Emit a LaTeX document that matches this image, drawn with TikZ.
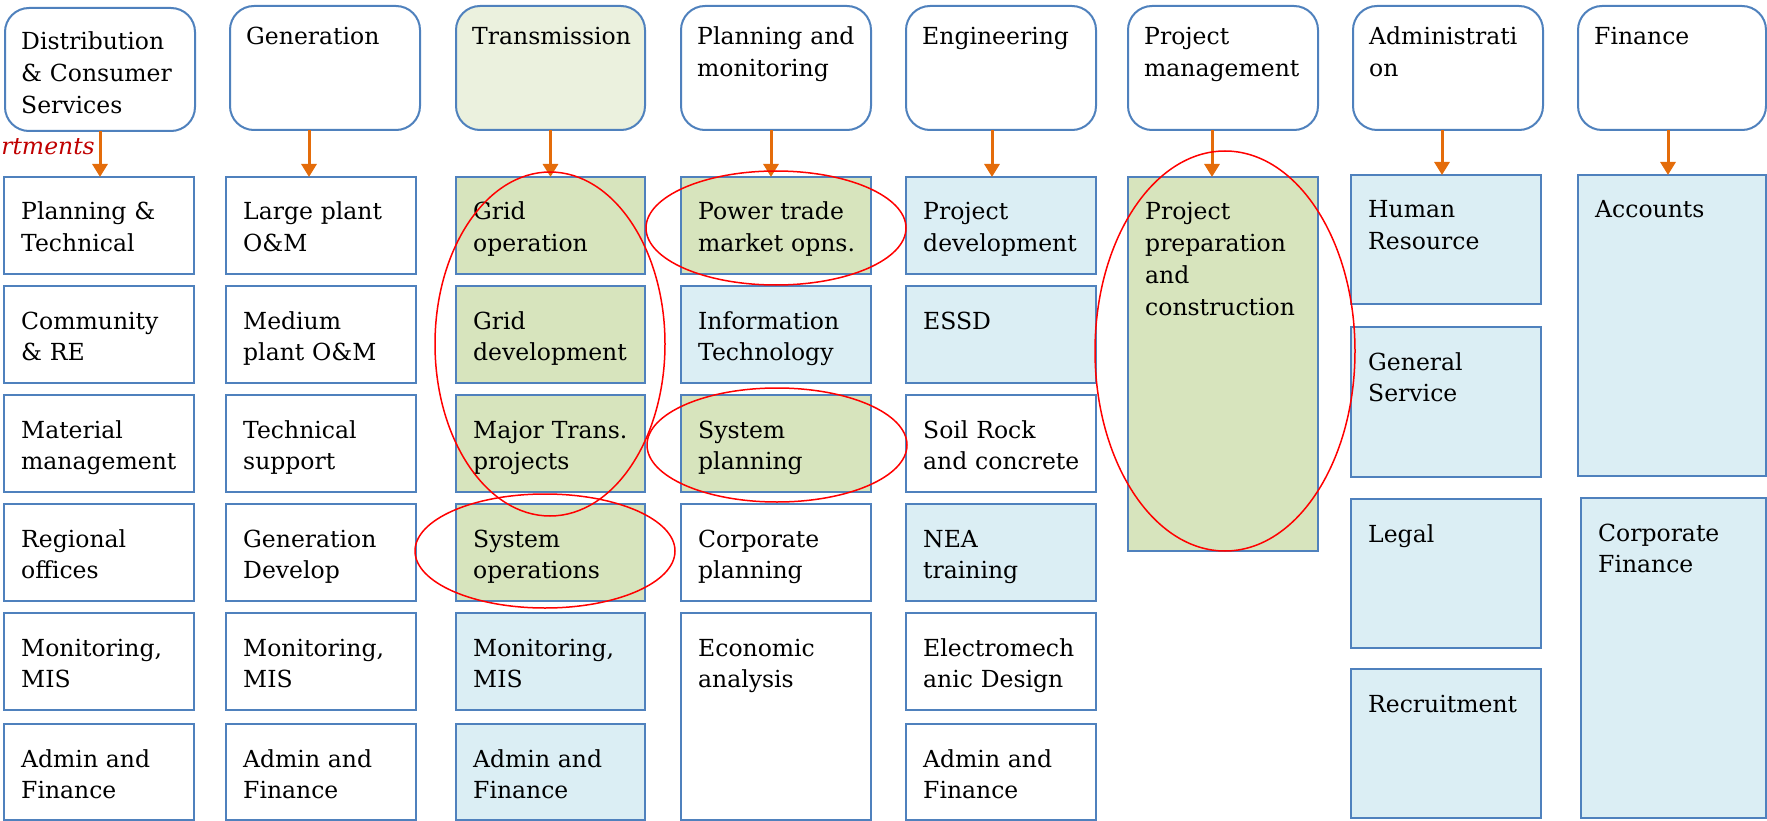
\documentclass[tikz,border=0pt]{standalone}
\usepackage{fontspec}
\setmainfont{DejaVu Serif}
\usetikzlibrary{arrows.meta}

\definecolor{boxline}{RGB}{79,129,189}
\definecolor{greenfill}{RGB}{215,228,189}
\definecolor{palegreen}{RGB}{235,241,222}
\definecolor{bluefill}{RGB}{219,238,244}
\definecolor{arrowor}{RGB}{228,108,10}
\definecolor{marker}{RGB}{255,0,0}
\definecolor{notered}{RGB}{192,0,0}

\tikzset{
  unitbox/.style={rectangle, draw=boxline, line width=2pt, anchor=north west,
                  inner sep=0pt, outer sep=0pt},
  headbox/.style={unitbox, rounded corners=24pt},
  unittext/.style={anchor=base west, inner sep=0pt, text width=185pt, align=left,
                   font=\fontsize{23.5pt}{31.8pt}\selectfont},
  feed/.style={draw=arrowor, line width=3pt, -{Triangle[width=15pt,length=13pt]}},
  ring/.style={draw=marker, line width=1.5pt},
}

% unit box: name, left, top, width, height, fill, text
\newcommand\orgbox[7]{%
  \node[unitbox, fill=#6, minimum width=#4pt, minimum height=#5pt] (#1) at (#2,#3) {};
  \node[unittext] (#1t) at ([shift={(17pt,-43pt)}]#1.north west) {#7};}

% department header: name, left, top, width, height, fill, baseline offset, text
\newcommand\orghead[8]{%
  \node[headbox, fill=#6, minimum width=#4pt, minimum height=#5pt] (#1) at (#2,#3) {};
  \node[unittext] (#1t) at ([shift={(16pt,-#7pt)}]#1.north west) {#8};}

\begin{document}
\begin{tikzpicture}[x=1pt, y=-1pt]
\useasboundingbox (0,0) rectangle (1767,821);

% department headers
\orghead{h1}{5}{8}{190}{123}{white}{42}{Distribution\\\& Consumer\\Services}
\orghead{h2}{230}{6}{190}{124}{white}{39}{Generation}
\orghead{h3}{456}{6}{189}{124}{palegreen}{39}{Transmission}
\orghead{h4}{681}{6}{190}{124}{white}{39}{Planning and\\monitoring}
\orghead{h5}{906}{6}{190}{124}{white}{39}{Engineering}
\orghead{h6}{1128}{6}{190}{124}{white}{39}{Project\\management}
\orghead{h7}{1353}{6}{190}{124}{white}{39}{Administrati\\on}
\orghead{h8}{1578}{6}{188}{124}{white}{39}{Finance}

\node[anchor=base east, inner sep=0pt, text=notered,
      font=\fontsize{23.5pt}{31.8pt}\selectfont\itshape] (dept) at (95,155) {rtments};

% Distribution & Consumer Services
\orgbox{b11}{4}{177}{190}{97}{white}{Planning \&\\Technical}
\orgbox{b12}{4}{286}{190}{97}{white}{Community\\\& RE}
\orgbox{b13}{4}{395}{190}{97}{white}{Material\\management}
\orgbox{b14}{4}{504}{190}{97}{white}{Regional\\offices}
\orgbox{b15}{4}{613}{190}{97}{white}{Monitoring,\\MIS}
\orgbox{b16}{4}{724}{190}{96}{white}{Admin and\\Finance}

% Generation
\orgbox{b21}{226}{177}{190}{97}{white}{Large plant\\O\&M}
\orgbox{b22}{226}{286}{190}{97}{white}{Medium\\plant O\&M}
\orgbox{b23}{226}{395}{190}{97}{white}{Technical\\support}
\orgbox{b24}{226}{504}{190}{97}{white}{Generation\\Develop}
\orgbox{b25}{226}{613}{190}{97}{white}{Monitoring,\\MIS}
\orgbox{b26}{226}{724}{190}{96}{white}{Admin and\\Finance}

% Transmission
\orgbox{b31}{456}{177}{189}{97}{greenfill}{Grid\\operation}
\orgbox{b32}{456}{286}{189}{97}{greenfill}{Grid\\development}
\orgbox{b33}{456}{395}{189}{97}{greenfill}{Major Trans.\\projects}
\orgbox{b34}{456}{504}{189}{97}{greenfill}{System\\operations}
\orgbox{b35}{456}{613}{189}{97}{bluefill}{Monitoring,\\MIS}
\orgbox{b36}{456}{724}{189}{96}{bluefill}{Admin and\\Finance}

% Planning and monitoring
\orgbox{b41}{681}{177}{190}{97}{greenfill}{Power trade\\market opns.}
\orgbox{b42}{681}{286}{190}{97}{bluefill}{Information\\Technology}
\orgbox{b43}{681}{395}{190}{97}{greenfill}{System\\planning}
\orgbox{b44}{681}{504}{190}{97}{white}{Corporate\\planning}
\orgbox{b45}{681}{613}{190}{207}{white}{Economic\\analysis}

% Engineering
\orgbox{b51}{906}{177}{190}{97}{bluefill}{Project\\development}
\orgbox{b52}{906}{286}{190}{97}{bluefill}{ESSD}
\orgbox{b53}{906}{395}{190}{97}{white}{Soil Rock\\and concrete}
\orgbox{b54}{906}{504}{190}{97}{bluefill}{NEA\\training}
\orgbox{b55}{906}{613}{190}{97}{white}{Electromech\\anic Design}
\orgbox{b56}{906}{724}{190}{96}{white}{Admin and\\Finance}

% Project management
\orgbox{b61}{1128}{177}{190}{374}{greenfill}{Project\\preparation\\and\\construction}

% Administration
\orgbox{b71}{1351}{175}{190}{129}{bluefill}{Human\\Resource}
\orgbox{b72}{1351}{327}{190}{150}{bluefill}{General\\Service}
\orgbox{b73}{1351}{499}{190}{149}{bluefill}{Legal}
\orgbox{b74}{1351}{669}{190}{149}{bluefill}{Recruitment}

% Finance
\orgbox{b81}{1578}{175}{188}{301}{bluefill}{Accounts}
\orgbox{b82}{1581}{498}{185}{320}{bluefill}{Corporate\\Finance}

% header-to-unit arrows
\coordinate (a1) at (h1.south);
\coordinate (a2) at ([xshift=-16pt]h2.south);
\coordinate (a3) at (h3.south);
\coordinate (a4) at ([xshift=-5pt]h4.south);
\coordinate (a5) at ([xshift=-9pt]h5.south);
\coordinate (a6) at ([xshift=-11pt]h6.south);
\coordinate (a7) at ([xshift=-6pt]h7.south);
\coordinate (a8) at ([xshift=-4pt]h8.south);
\draw[feed] (a1) -- (a1 |- b11.north);
\draw[feed] (a2) -- (a2 |- b21.north);
\draw[feed] (a3) -- (a3 |- b31.north);
\draw[feed] (a4) -- (a4 |- b41.north);
\draw[feed] (a5) -- (a5 |- b51.north);
\draw[feed] (a6) -- (a6 |- b61.north);
\draw[feed] (a7) -- (a7 |- b71.north);
\draw[feed] (a8) -- (a8 |- b81.north);

% highlight rings
\draw[ring] (550,344) ellipse [x radius=115, y radius=172];
\draw[ring] (545,551) ellipse [x radius=130, y radius=57];
\draw[ring] (776,228) ellipse [x radius=130, y radius=57];
\draw[ring] (777,445) ellipse [x radius=130, y radius=57];
\draw[ring] (1225,351) ellipse [x radius=130, y radius=200];

\end{tikzpicture}
\end{document}
